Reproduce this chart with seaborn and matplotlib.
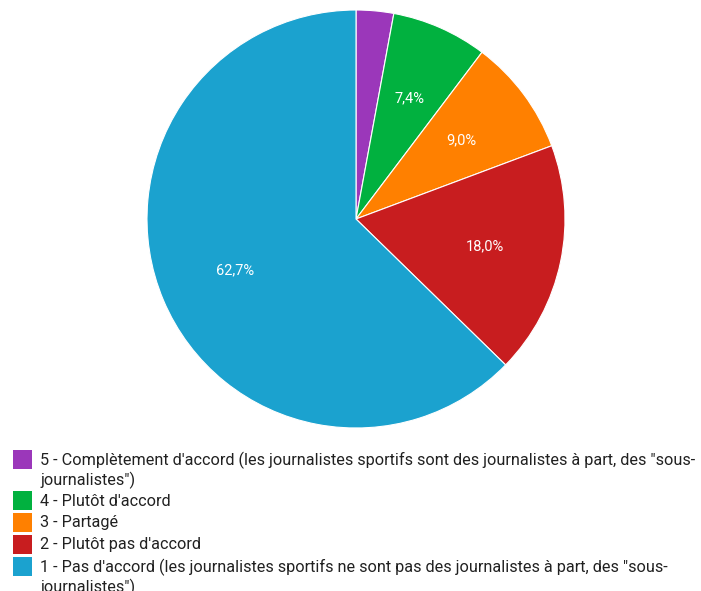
import matplotlib
matplotlib.use("Agg")
import matplotlib.pyplot as plt
import seaborn as sns
import numpy as np
from matplotlib.patches import Rectangle

sns.set_theme(style="white")
plt.rcParams['font.family'] = ['Roboto', 'DejaVu Sans']

categories = [
    "5 - Complètement d'accord (les journalistes sportifs sont des journalistes à part, des \"sous-\njournalistes\")",
    "4 - Plutôt d'accord",
    "3 - Partagé",
    "2 - Plutôt pas d'accord",
    "1 - Pas d'accord (les journalistes sportifs ne sont pas des journalistes à part, des \"sous-\njournalistes\")",
]
values = [2.9, 7.4, 9.0, 18.0, 62.7]
pct_labels = ["", "7,4%", "9,0%", "18,0%", "62,7%"]
colors = ["#9b37ba", "#01b13f", "#ff8000", "#c81d1f", "#1ba2cf"]

W, H = 701, 591
fig = plt.figure(figsize=(W / 100, H / 100), dpi=100)
fig.patch.set_facecolor("white")

cx, cy, r = 356, 219, 209
ax = fig.add_axes([(cx - r) / W, (H - cy - r) / H, 2 * r / W, 2 * r / H])
wedges, _ = ax.pie(values, colors=colors, startangle=90, counterclock=False,
                   radius=1, wedgeprops=dict(edgecolor="white", linewidth=0.8))
total = sum(values)
start = 90.0
for v, lab in zip(values, pct_labels):
    ang = np.deg2rad(start - v / total * 360 / 2)
    start -= v / total * 360
    if lab:
        ax.text(0.63 * np.cos(ang), 0.63 * np.sin(ang), lab, ha="center", va="center",
                color="white", fontsize=10.5)
ax.set_xlim(-1, 1)
ax.set_ylim(-1, 1)
ax.set_aspect("equal")
ax.axis("off")

# legend
entry_tops = [450, 491, 513, 535, 557]
for lab, col, top in zip(categories, colors, entry_tops):
    fig.patches.append(Rectangle((13 / W, 1 - (top + 19) / H), 19 / W, 19 / H,
                                 transform=fig.transFigure, facecolor=col,
                                 edgecolor="none"))
    for i, ln in enumerate(lab.split("\n")):
        fig.text(40 / W, 1 - (top + 10 + i * 20) / H, ln, ha="left", va="center",
                 fontsize=11.7, color="#212121")

fig.savefig("out.png", dpi=100, facecolor="white")
